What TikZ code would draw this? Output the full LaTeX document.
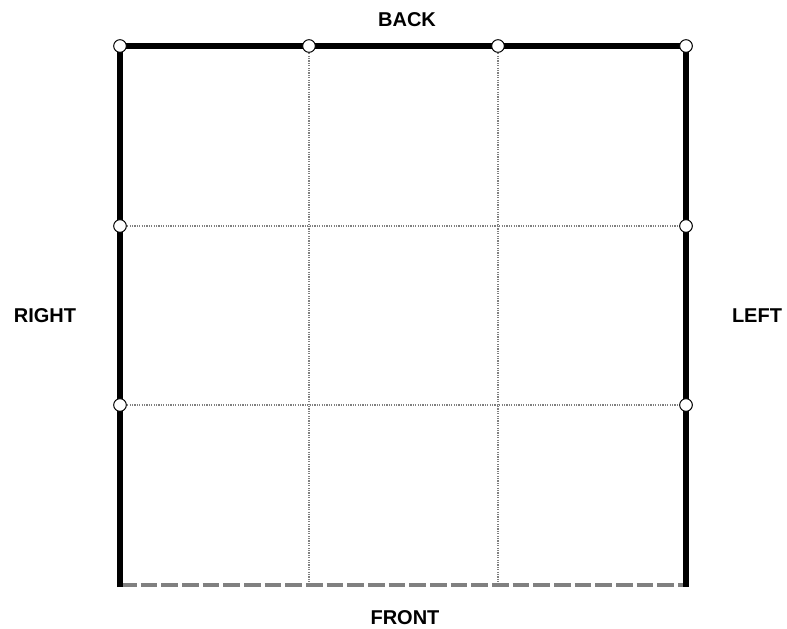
\documentclass[tikz,border=0pt]{standalone}
\usepackage{fontspec}
\setmainfont{Liberation Sans}
\tikzset{
  wall/.style={line width=4.5pt, line cap=butt},
  hinge/.style={circle, draw=black, fill=white, line width=0.75pt, inner sep=0pt, minimum size=9.5pt},
  gridline/.style={gray, line width=0.9pt, dash pattern=on 0.9pt off 0.9pt},
  openside/.style={gray, line width=3pt, dash pattern=on 12.5pt off 3pt},
  sidelabel/.style={font=\fontsize{15}{18}\selectfont\bfseries}
}
\begin{document}
\begin{tikzpicture}[x=0.75pt,y=-0.75pt]
\useasboundingbox (0,0) rectangle (787,628);
\path
(120,46) coordinate (tl)
(686,46) coordinate (tr)
(120,587) coordinate (bl)
(686,587) coordinate (br)
(120,585) coordinate (fl)
(686,585) coordinate (fr)
(309,46) coordinate (t1)
(498,46) coordinate (t2)
(309,585) coordinate (b1)
(498,585) coordinate (b2)
(120,226) coordinate (l1)
(120,405) coordinate (l2)
(686,226) coordinate (r1)
(686,405) coordinate (r2)
(407,20) node[sidelabel] (back) {BACK}
(405,618) node[sidelabel] (front) {FRONT}
(45,316) node[sidelabel] (right) {RIGHT}
(757,316) node[sidelabel] (left) {LEFT};
%\draw[help lines] (0,0) grid (787,628);
\draw[gridline] (t1) -- (b1);
\draw[gridline] (t2) -- (b2);
\draw[gridline] (l1) -- (r1);
\draw[gridline] (l2) -- (r2);
\draw[openside] (fl) -- (fr);
\draw[wall] (bl) -- (tl) -- (tr) -- (br);
\foreach \p in {tl,t1,t2,tr,l1,l2,r1,r2}
  \node[hinge] at (\p) {};
\end{tikzpicture}
\end{document}
